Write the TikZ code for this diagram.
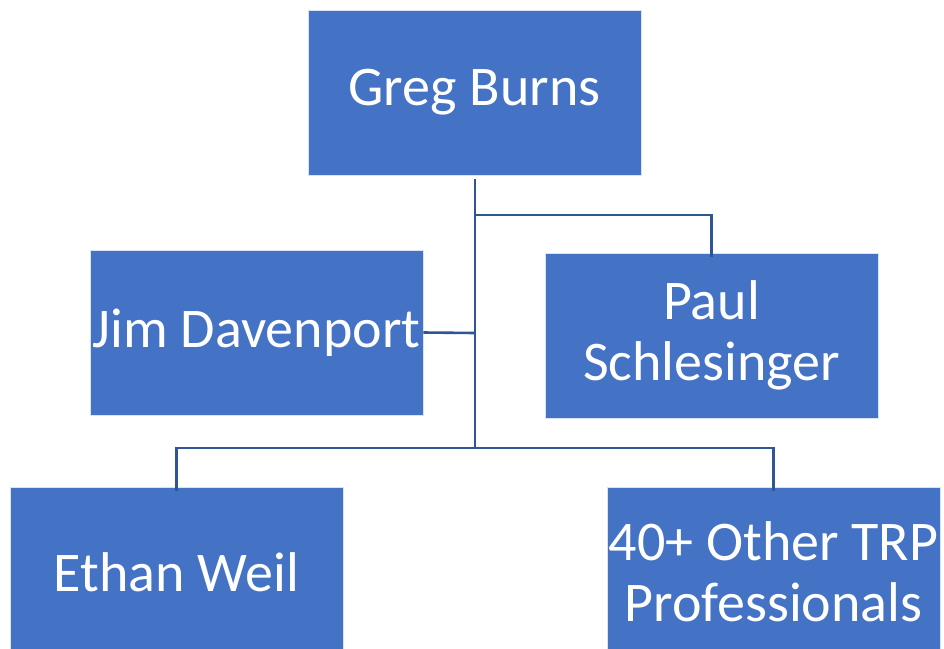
\documentclass[tikz,border=0pt]{standalone}
\usepackage{fontspec}
\setmainfont{Carlito}
\definecolor{boxblue}{HTML}{4472C4}
\definecolor{lineblue}{HTML}{2F5597}
\begin{document}
\begin{tikzpicture}[x=1pt,y=-1pt,
  orgbox/.style={fill=boxblue, draw=white!80!boxblue, line width=0.8pt, minimum width=333pt, minimum height=165pt, text=white, align=center, inner sep=0pt,
    font=\fontsize{56}{61}\selectfont},
  conn/.style={draw=lineblue, line width=2.6pt}]
\useasboundingbox (0,0) rectangle (944,648);
\node[orgbox] (greg) at (474.5,92.5) {Greg Burns};
\node[orgbox] (jim) at (256.5,332.5) {Jim Davenport};
\node[orgbox] (paul) at (711.5,335.5) {Paul\\Schlesinger};
\node[orgbox, minimum height=170pt] (ethan) at (176.5,572) {Ethan Weil};
\node[orgbox, minimum height=170pt] (other) at (773.5,572) {40+ Other TRP\\Professionals};
\coordinate (top) at (475,179);
\coordinate (mid) at (475,448);
\coordinate (pb) at (475,215);
\coordinate (jb) at (475,333);
\draw[conn] (top) -- (mid);
\draw[conn] (pb) -| ([yshift=-4pt]paul.north);
\draw[conn] (jb) -- (jim.east);
\draw[conn] ([yshift=-4pt]ethan.north) |- (mid) -| ([yshift=-4pt]other.north);
\end{tikzpicture}
\end{document}
